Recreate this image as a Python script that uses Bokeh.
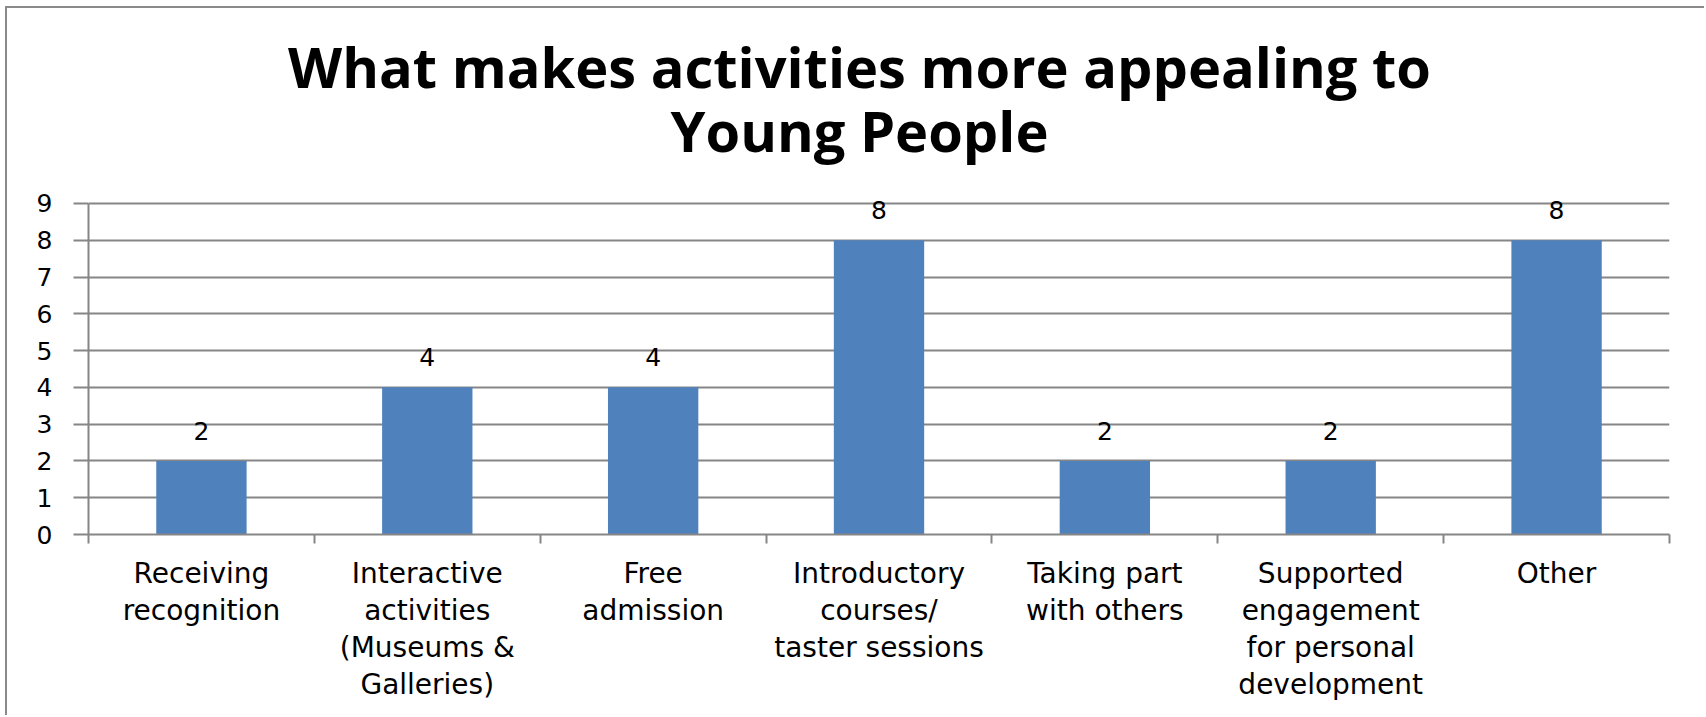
from bokeh.plotting import figure
from bokeh.models import FixedTicker, Range1d, ColumnDataSource, Label
from bokeh.core.properties import value
from bokeh.embed import file_html
from bokeh.resources import INLINE

categories = [
    "Receiving\nrecognition",
    "Interactive\nactivities\n(Museums &\nGalleries)",
    "Free\nadmission",
    "Introductory\ncourses/\ntaster sessions",
    "Taking part\nwith others",
    "Supported\nengagement\nfor personal\ndevelopment",
    "Other",
]
counts = [2, 4, 4, 8, 2, 2, 8]
y_ticks = [0, 1, 2, 3, 4, 5, 6, 7, 8, 9]
title_lines = ["What makes activities more appealing to", "Young People"]

GRID = "#868686"
BAR = "#4F81BD"
FONT = "DejaVu Sans"

centers = [i + 0.5 for i in range(len(categories))]
bounds_ticks = list(range(len(categories) + 1))

# canvas starts at (7, 8) in the window because of the CSS border below.
# The frame extends up to the canvas top so the title can live inside it.
p = figure(width=1699, height=709, output_backend="svg", toolbar_location=None,
           title=None, x_range=Range1d(0, len(categories)), y_range=Range1d(0, 14.30))
p.styles = {"margin-left": "5px", "margin-top": "6px",
            "border-left": "2px solid #8a8a8a", "border-top": "2px solid #8a8a8a"}
p.min_border_left = 81
p.min_border_right = 37
p.min_border_top = 0
p.min_border_bottom = 183
p.outline_line_color = None
p.background_fill_color = "white"
p.border_fill_color = "white"

src = ColumnDataSource(dict(x=centers, top=counts, lab=[str(c) for c in counts]))
p.vbar(x="x", top="top", width=0.4, source=src, fill_color=BAR, line_color=None)
p.text(x="x", y="top", text="lab", source=src, y_offset=-30, text_align="center",
       text_baseline="alphabetic", text_font=value(FONT), text_font_size="25px",
       text_color="black")

# title: screen units relative to the frame
for txt, ys in zip(title_lines, [469, 405]):
    p.add_layout(Label(x=771, y=ys, x_units="screen", y_units="screen", text=txt,
                       text_align="center", text_baseline="alphabetic",
                       text_font="Open Sans", text_font_style="bold",
                       text_font_size="56px", text_color="black"))

# x axis
xa = p.xaxis[0]
xa.ticker = FixedTicker(ticks=centers, minor_ticks=bounds_ticks)
xa.major_label_overrides = {c: lab for c, lab in zip(centers, categories)}
xa.major_tick_out = 0
xa.major_tick_in = 0
xa.minor_tick_out = 9
xa.minor_tick_in = 0
xa.minor_tick_line_color = GRID
xa.minor_tick_line_width = 2
xa.axis_line_color = GRID
xa.axis_line_width = 2
xa.major_label_text_font = FONT
xa.major_label_text_font_size = "28px"
xa.major_label_text_line_height = 1.126
xa.major_label_text_color = "black"
xa.major_label_standoff = 13

# y axis
ya = p.yaxis[0]
ya.ticker = FixedTicker(ticks=y_ticks)
ya.bounds = (0, 9)
ya.major_tick_out = 15
ya.major_tick_in = 0
ya.minor_tick_line_color = None
ya.major_tick_line_color = GRID
ya.major_tick_line_width = 2
ya.axis_line_color = GRID
ya.axis_line_width = 2
ya.major_label_text_font = FONT
ya.major_label_text_font_size = "25px"
ya.major_label_text_color = "black"
ya.major_label_standoff = 21

p.xgrid.grid_line_color = None
p.ygrid.grid_line_color = GRID
p.ygrid.grid_line_width = 2
p.ygrid.ticker = FixedTicker(ticks=y_ticks)

open("out.html", "w").write(file_html(p, INLINE))
